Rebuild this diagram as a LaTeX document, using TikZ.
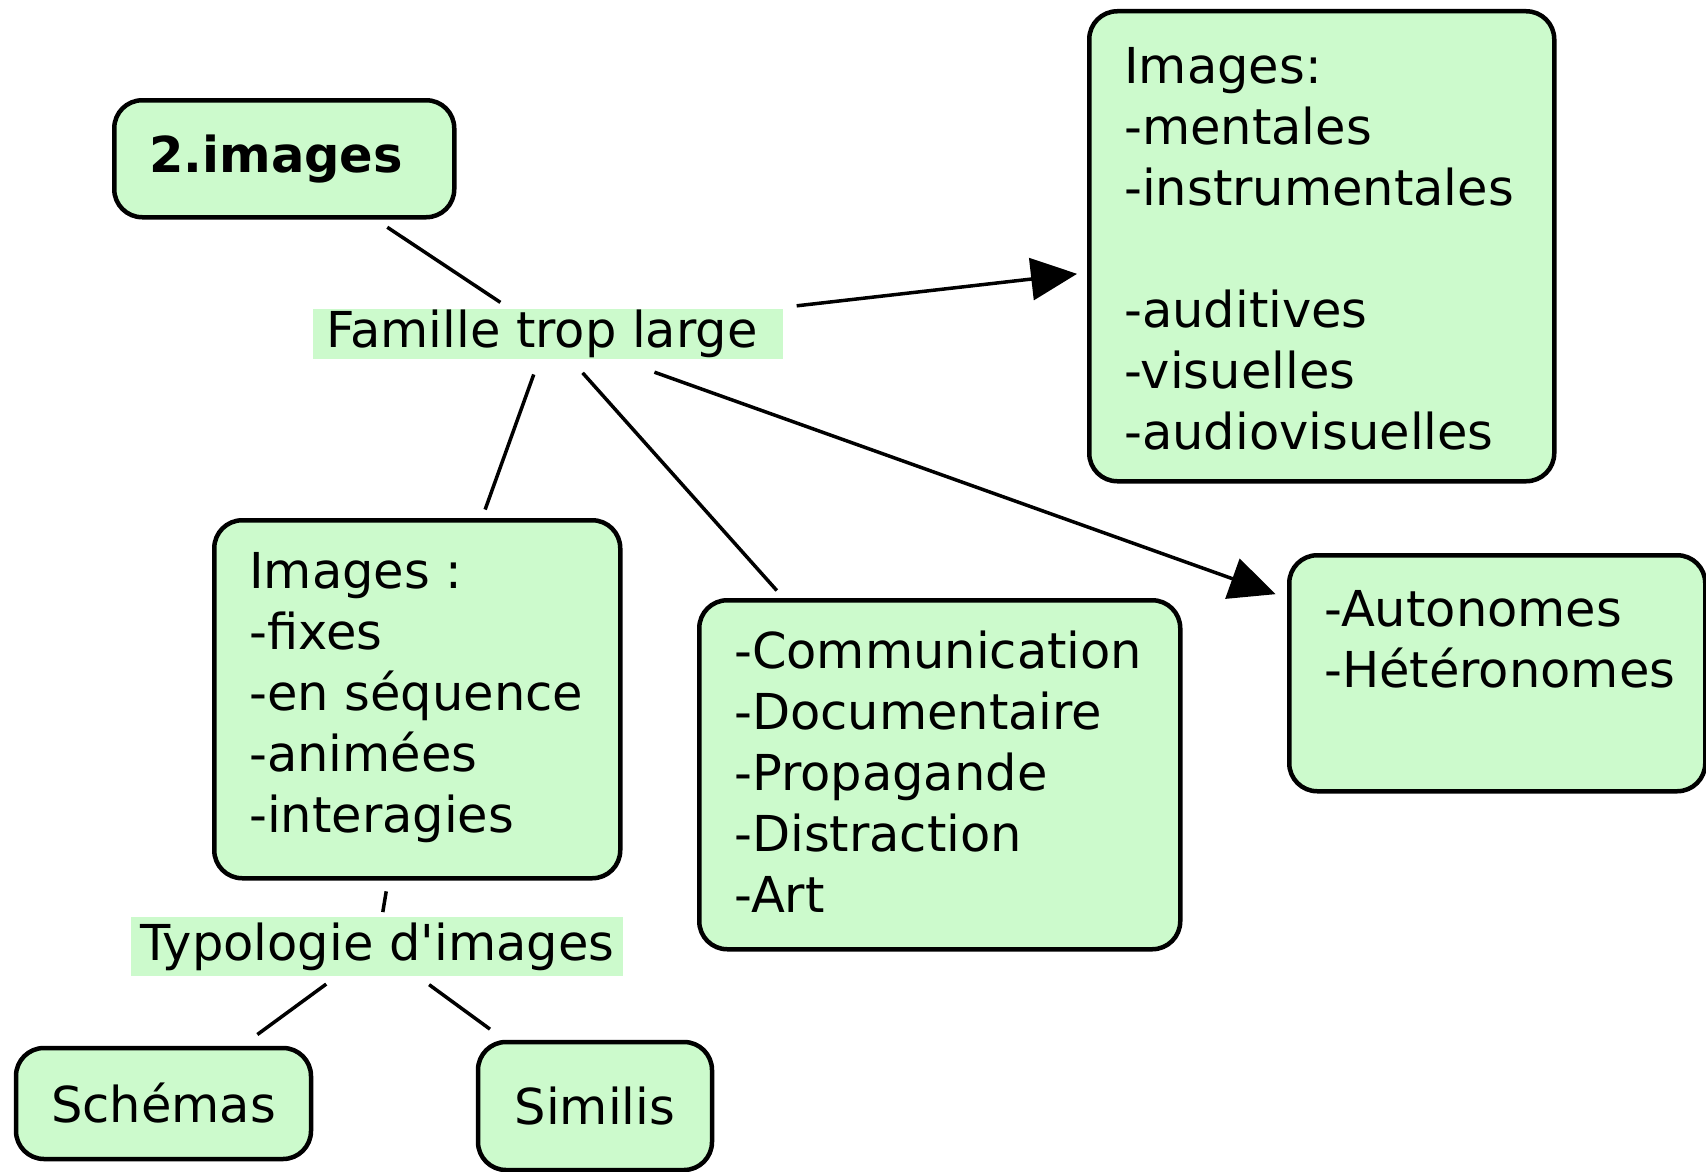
\documentclass[tikz,border=0pt]{standalone}
\usepackage{fontspec}
\setmainfont{DejaVu Sans}
\usetikzlibrary{arrows.meta}
\definecolor{boxgreen}{RGB}{204,250,204}
\newcommand\boxtxt[4]{\hspace*{35pt}\begin{minipage}[c][#2][t]{\dimexpr#1-35pt\relax}\rule{0pt}{#3}#4\end{minipage}}
\begin{document}
\begin{tikzpicture}[x=1pt,y=-1pt,
  every node/.style={font=\fontsize{49.5}{61}\selectfont},
  cbox/.style={draw=black, fill=boxgreen, line width=4.5pt, rounded corners=28pt, inner sep=0pt, anchor=north west},
  ccbox/.style={draw=black, fill=boxgreen, line width=4.5pt, rounded corners=28pt, inner sep=0pt, anchor=center},
  lbl/.style={fill=boxgreen, inner sep=0pt, anchor=north west},
  link/.style={line width=3.5pt},
  arr/.style={line width=3.5pt, -{Triangle[length=46pt,width=42pt]}}]
\useasboundingbox (0,0) rectangle (1706,1172);
\node[cbox] (img2) at (112,98) {\boxtxt{340pt}{117pt}{72pt}{\bfseries 2.images}};
\node[lbl, minimum height=50pt] (fam) at (313,309) {\makebox[470pt][l]{\hspace*{13pt}Famille trop large}};
\node[cbox] (toprt) at (1087,9) {\boxtxt{465pt}{470pt}{72pt}{Images:\\-mentales\\-instrumentales\\\mbox{}\\-auditives\\-visuelles\\-audiovisuelles}};
\node[cbox] (imgs) at (212,518) {\boxtxt{406pt}{358pt}{68pt}{Images :\\-fixes\\-en séquence\\-animées\\-interagies}};
\node[cbox] (comm) at (697,598) {\boxtxt{481pt}{349pt}{68pt}{-Communication\\-Documentaire\\-Propagande\\-Distraction\\-Art}};
\node[cbox] (auto) at (1287,553) {\boxtxt{416pt}{236pt}{71pt}{-Autonomes\\-Hétéronomes}};
\node[lbl, minimum width=492pt, minimum height=59pt] (typo) at (131,917) {Typologie d\textquotesingle images};
\node[ccbox, minimum width=295pt, minimum height=111pt] (schemas) at (163.5,1103.5) {Schémas};
\node[ccbox, minimum width=234pt, minimum height=128pt] (similis) at (595,1106) {Similis};
\draw[link, shorten <=14pt, shorten >=12pt] (img2) -- (fam);
\draw[link, shorten <=16pt, shorten >=9pt] (fam) -- (imgs);
\draw[link, shorten <=18pt, shorten >=10pt] (fam) -- (comm);
\draw[arr, shorten <=38pt, shorten >=12pt] (fam) -- (auto);
\draw[arr, shorten <=28pt, shorten >=10pt] (fam) -- (toprt);
\draw[link, shorten <=11pt, shorten >=5pt] (imgs) -- (typo);
\draw[link, shorten <=13pt, shorten >=19pt] (typo) -- (schemas);
\draw[link, shorten <=14pt, shorten >=18pt] (typo) -- (similis);
\end{tikzpicture}
\end{document}
